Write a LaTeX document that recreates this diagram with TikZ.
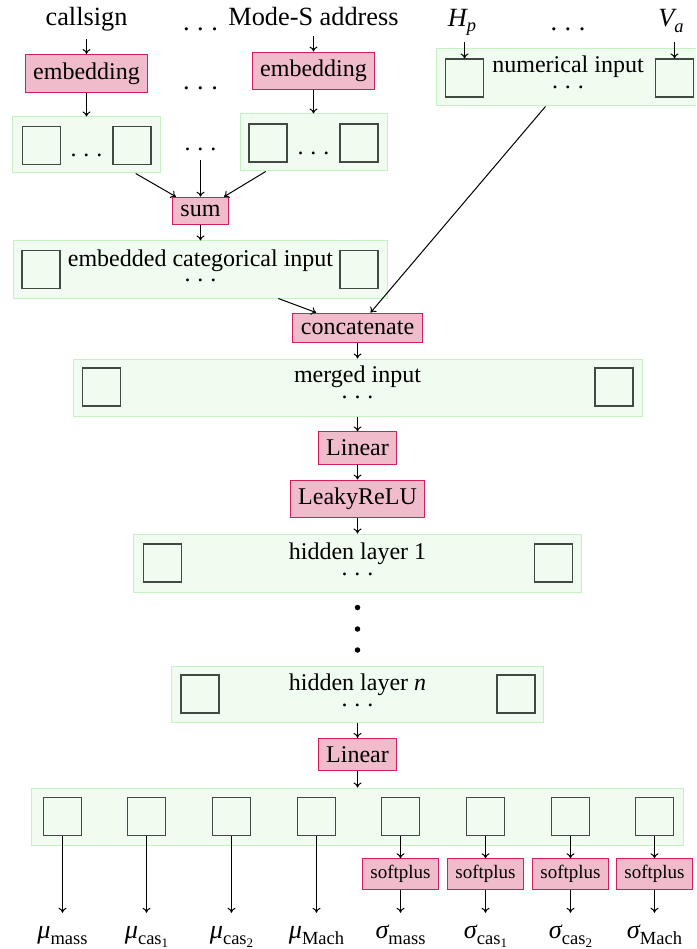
\documentclass[tikz,border=0pt]{standalone}
\usepackage{fontspec}
\setmainfont{Liberation Serif}
\usetikzlibrary{arrows.meta,calc}
\definecolor{pinkfill}{RGB}{240,188,204}
\definecolor{pinkdraw}{RGB}{210,30,90}
\definecolor{greenfill}{RGB}{240,252,240}
\definecolor{greendraw}{RGB}{195,242,195}
\definecolor{sqdraw}{RGB}{64,74,64}
\newcommand\lblfont{\fontsize{26.3}{30}\selectfont}
\newcommand\nrmfont{\fontsize{24}{28}\selectfont}
\newcommand\smlfont{\fontsize{19}{22}\selectfont}
\newcommand\mydots{.\kern0.29em.\kern0.29em.}
\newcommand\subx[2][6pt]{\raisebox{-#1}{\fontsize{18.5}{20}\selectfont #2}}
\newcommand\subsubx[1]{\raisebox{-3.5pt}{\fontsize{13}{14}\selectfont #1}}
\begin{document}
\begin{tikzpicture}[x=1pt,y=-1pt,
  layer/.style={draw=greendraw, fill=greenfill, line width=1pt, inner sep=0pt},
  sq/.style={draw=sqdraw, fill=greenfill, line width=1.1pt, minimum size=38pt, inner sep=0pt},
  op/.style={draw=pinkdraw, fill=pinkfill, line width=1pt, inner xsep=8pt, inner ysep=8pt, font=\nrmfont},
  sop/.style={draw=pinkdraw, fill=pinkfill, line width=1pt, inner xsep=7.5pt, inner ysep=6.5pt, font=\smlfont},
  lbl/.style={font=\lblfont, anchor=base, inner sep=7.5pt},
  txt/.style={font=\nrmfont, anchor=base, inner sep=0pt},
  ltxt/.style={font=\fontsize{24}{15.5}\selectfont, align=center, inner sep=0pt},
  dts/.style={font=\nrmfont, anchor=base, inner sep=8.5pt},
  outl/.style={font=\lblfont, anchor=base, inner sep=8pt, text height=17pt},
  vdot/.style={circle, fill=black, inner sep=0pt, minimum size=5.5pt},
  arr/.style={-{To[length=5pt,width=8pt]}, line width=1pt}
]
\useasboundingbox (0,0) rectangle (696,949);
\clip (0,0) rectangle (696,949);

% top labels
\node[lbl, text depth=6pt] (cs) at (86.5,25.5) {callsign};
\node[lbl, text depth=3pt] (ms) at (313.5,25.5) {Mode-S address};
\node[lbl] (tdots) at (200.5,30.5) {\mydots};
\node[lbl, text depth=9pt, inner sep=6pt] (hp) at (462,27) {\itshape H\subx[5pt]{p}};
\node[lbl, text depth=9pt, inner sep=6pt] (va) at (671,27) {\itshape V\subx[5.5pt]{a}};
\node[lbl] (tdots2) at (568,30.5) {\mydots};

% embeddings
\node[op] (emb1) at (86.5,73.5) {embedding};
\node[op] (emb2) at (313.5,71) {embedding};
\node[lbl] (edots) at (200.5,90) {\mydots};

% categorical layers
\node[layer, minimum width=148pt, minimum height=56pt] (cat1) at (86.5,145) {};
\node[sq] (c1a) at (41.5,145.5) {};
\node[sq] (c1b) at (132,145.5) {};
\node[txt] (c1d) at (86.5,156.5) {\mydots};
\node[layer, minimum width=147pt, minimum height=57pt] (cat2) at (313.5,142.5) {};
\node[sq] (c2a) at (268,143) {};
\node[sq] (c2b) at (359,143) {};
\node[txt] (c2d) at (313.5,154.5) {\mydots};
\node[dts] (mdots) at (200.5,150.5) {\mydots};

% numerical input
\node[layer, minimum width=267pt, minimum height=57pt] (num) at (570,77.5) {};
\node[sq] (n1) at (464.5,78) {};
\node[sq] (n2) at (674.5,78) {};
\node[ltxt] (numt) at (568,72.5) {numerical input\\\mydots};

% sum and embedded categorical input
\node[op] (sum) at (200.5,211) {sum};
\node[layer, minimum width=374pt, minimum height=57pt] (emb) at (200.5,269.5) {};
\node[sq] (e1) at (41,269.5) {};
\node[sq] (e2) at (359,269.5) {};
\node[ltxt] (embt) at (200.5,266) {embedded categorical input\\\mydots};

% concatenate and merged input
\node[op] (cat) at (357.5,328) {concatenate};
\node[layer, minimum width=569pt, minimum height=57pt] (mrg) at (357.5,387.5) {};
\node[sq] (m1) at (101.5,387) {};
\node[sq] (m2) at (614,387) {};
\node[ltxt] (mrgt) at (357.5,382.5) {merged input\\\mydots};

% linear, leaky
\node[op] (lin1) at (357.5,448) {Linear};
\node[op] (leaky) at (357.5,499) {LeakyReLU};

% hidden layer 1
\node[layer, minimum width=448pt, minimum height=58pt] (h1) at (357.5,563) {};
\node[sq] (h1a) at (162.5,563) {};
\node[sq] (h1b) at (553.5,563) {};
\node[ltxt] (h1t) at (357.5,559.5) {hidden layer 1\\\mydots};

% vertical dots
\node[vdot] (vd1) at (357.5,607.5) {};
\node[vdot] (vd2) at (357.5,629) {};
\node[vdot] (vd3) at (357.5,650) {};

% hidden layer n
\node[layer, minimum width=372pt, minimum height=56pt] (hn) at (357.5,694) {};
\node[sq] (hna) at (200,694) {};
\node[sq] (hnb) at (516,694) {};
\node[ltxt] (hnt) at (357.5,690.5) {hidden layer {\itshape n}\\\mydots};

\node[op] (lin2) at (357.5,754.5) {Linear};

% output layer
\node[layer, minimum width=652pt, minimum height=57pt] (out) at (357.5,816.5) {};
\foreach \i/\x in {1/62.5,2/146.5,3/231.5,4/316.5,5/400.5,6/485.5,7/570.5,8/654.5}{
  \node[sq] (o\i) at (\x,816.5) {};
  \coordinate (x\i) at (\x,0);
}
\foreach \i in {5,...,8}{
  \node[sop] (sp\i) at (x\i |- 0,874) {softplus};
}
\node[outl] (l1) at (x1 |- 0,938) {{\itshape μ}\subx{mass}};
\node[outl] (l2) at (x2 |- 0,938) {{\itshape μ}\subx{cas\subsubx{1}}};
\node[outl] (l3) at (x3 |- 0,938) {{\itshape μ}\subx{cas\subsubx{2}}};
\node[outl] (l4) at (x4 |- 0,938) {{\itshape μ}\subx{Mach}};
\node[outl] (l5) at (x5 |- 0,938) {{\itshape σ}\subx{mass}};
\node[outl] (l6) at (x6 |- 0,938) {{\itshape σ}\subx{cas\subsubx{1}}};
\node[outl] (l7) at (x7 |- 0,938) {{\itshape σ}\subx{cas\subsubx{2}}};
\node[outl] (l8) at (x8 |- 0,938) {{\itshape σ}\subx{Mach}};

% connectors
\draw[arr] (cs) -- (emb1);
\draw[arr] (ms) -- (emb2);
\draw[arr] (emb1) -- (cat1);
\draw[arr] (emb2) -- (cat2);
\draw[arr] (hp.south -| n1) -- (n1);
\draw[arr] (va.south -| n2) -- (n2);
\draw[arr] (cat1) -- (sum);
\draw[arr] (cat2) -- (sum);
\draw[arr] (mdots) -- (sum);
\draw[arr] (sum) -- (emb);
\draw[arr] (emb) -- (cat);
\draw[arr] (num) -- (cat);
\draw[arr] (cat) -- (mrg);
\draw[arr] (mrg) -- (lin1);
\draw[arr] (lin1) -- (leaky);
\draw[arr] (leaky) -- (h1);
\draw[arr] (hn) -- (lin2);
\draw[arr] (lin2) -- (out);
\foreach \i in {1,...,4}{ \draw[arr] (o\i) -- (l\i); }
\foreach \i in {5,...,8}{ \draw[arr] (o\i) -- (sp\i); \draw[arr] (sp\i) -- (l\i); }
\end{tikzpicture}
\end{document}
